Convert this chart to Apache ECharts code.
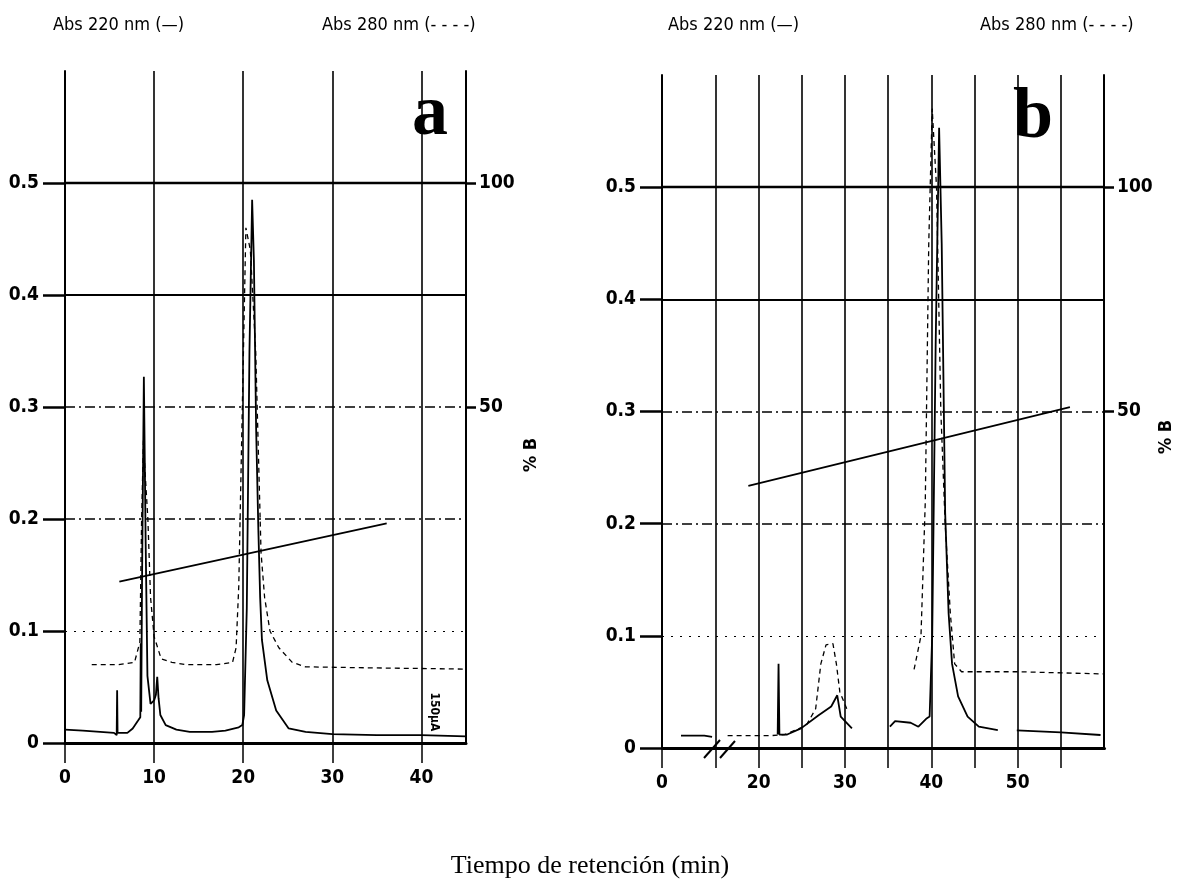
<!DOCTYPE html>
<html>
<head>
<meta charset="utf-8">
<title>Tiempo de retención</title>
<script src="https://cdn.jsdelivr.net/npm/echarts@6.0.0/dist/echarts.min.js"></script>
<style>
  html, body { margin: 0; padding: 0; background: #fff; }
  #chart { width: 1179px; height: 893px; }
</style>
</head>
<body>
<div id="chart"></div>
<script>
// panel a : tiempo (min) y absorbancia
var aTime220 = [0, 2, 5.5, 5.8, 5.85, 5.9, 6.0, 7.0, 7.6, 8.2, 8.45, 8.5, 8.55, 8.65, 8.85, 9.05, 9.25, 9.6, 10.0, 10.2, 10.35, 10.5, 10.7, 11.3, 12.5, 14, 16.5, 18, 19.5, 19.9, 20.1, 20.4, 20.7, 21.0, 21.2, 21.45, 21.7, 21.9, 22.1, 22.7, 23.7, 25.1, 27, 30, 35, 40, 45];
var aAbs220  = [0.012, 0.011, 0.009, 0.007, 0.047, 0.009, 0.008, 0.009, 0.013, 0.020, 0.023, 0.089, 0.028, 0.15, 0.327, 0.18, 0.06, 0.035, 0.038, 0.043, 0.059, 0.04, 0.025, 0.016, 0.012, 0.010, 0.010, 0.011, 0.014, 0.016, 0.025, 0.12, 0.35, 0.485, 0.43, 0.28, 0.19, 0.13, 0.092, 0.056, 0.029, 0.013, 0.010, 0.008, 0.007, 0.007, 0.006];
var aTime280 = [3, 6, 7.8, 8.4, 8.6, 8.8, 9.0, 9.3, 9.6, 10.0, 10.8, 12, 13.5, 17, 18.8, 19.2, 19.5, 19.9, 20.3, 20.8, 21.4, 21.8, 22.0, 22.4, 23.0, 24.0, 25.5, 27, 35, 45];
var aAbs280  = [0.07, 0.07, 0.072, 0.09, 0.2, 0.27, 0.24, 0.2, 0.13, 0.095, 0.075, 0.072, 0.07, 0.07, 0.072, 0.085, 0.14, 0.3, 0.46, 0.44, 0.35, 0.23, 0.17, 0.13, 0.1, 0.085, 0.072, 0.068, 0.067, 0.066];
var aTimeGrad = [6.1, 36.1];
var aPctB     = [11, 24];

// panel b (eje roto entre 5 y 13.8 min)
var bTime220 = [2.2, 4.9, 13.9, 14.6, 18, 22.2, 22.3, 22.4, 23.3, 24.9, 26.9, 28.4, 29.1, 29.5, 30.8, 33, 35.2, 35.8, 37.6, 38.5, 39.4, 39.8, 40.1, 40.5, 40.9, 41.2, 41.6, 42.0, 42.4, 43.1, 44.2, 45.5, 47.7, 49, 49.9, 55, 59.6];
var bAbs220  = [0.011, 0.011, 0.011, 0.010, null, 0.012, 0.075, 0.012, 0.012, 0.0175, 0.029, 0.037, 0.047, 0.028, 0.0175, null, 0.019, 0.024, 0.0225, 0.019, 0.026, 0.028, 0.1, 0.36, 0.553, 0.45, 0.21, 0.12, 0.075, 0.046, 0.028, 0.019, 0.016, null, 0.0157, 0.014, 0.0116];
var bTime280 = [16.4, 21.4, 23, 25.5, 26.6, 27.2, 27.8, 28.6, 29.0, 29.4, 30.2, 34, 38.0, 38.8, 39.3, 39.7, 40.1, 40.6, 41.1, 41.6, 42.2, 42.7, 43.5, 50, 60];
var bAbs280  = [0.011, 0.011, 0.012, 0.02, 0.035, 0.075, 0.092, 0.093, 0.075, 0.05, 0.035, null, 0.07, 0.1, 0.22, 0.45, 0.57, 0.5, 0.3, 0.2, 0.12, 0.075, 0.068, 0.068, 0.066];
var bTimeGrad = [18.8, 56.05];
var bPctB     = [33.4, 51];
var bBreak    = [5, 13.8];

// ejes
var absTicks    = [0, 0.1, 0.2, 0.3, 0.4, 0.5];
var pctTicks    = [50, 100];
var aTimeLabels = [0, 10, 20, 30, 40];
var bTimeLabels = [0, 20, 30, 40, 50];
var bTimeTicks  = [0, 15, 20, 25, 30, 35, 40, 45, 50, 55];

var chart = echarts.init(document.getElementById('chart'));
var narrow = "'Liberation Sans Narrow', 'DejaVu Sans Condensed', sans-serif";
var serif = "'Liberation Serif', 'DejaVu Serif', serif";

function pairs(xs, ys) {
    return xs.map(function (x, i) { return [x, ys[i] === null ? '-' : ys[i]]; });
}

// líneas horizontales de la cuadrícula (estilo distinto por nivel)
function gridLines() {
    return absTicks.filter(function (v) { return v > 0; }).map(function (v) {
        var st;
        if (v >= 0.4) st = { type: 'solid', width: v === 0.5 ? 2.4 : 2 };
        else if (v >= 0.2) st = { type: [10, 4, 2, 4], width: 1.6 };
        else st = { type: [2, 7], width: 1.2 };
        return { yAxis: v, lineStyle: { color: '#000', type: st.type, width: st.width } };
    });
}

var labelFont = { color: '#000', fontFamily: narrow, fontSize: 19, fontWeight: 'bold' };

function timeAxis(grid, max, labels, ticks) {
    return {
        type: 'value', gridIndex: grid, min: 0, max: max, interval: 5,
        axisLine: { onZero: false, lineStyle: { color: '#000', width: 3 } },
        axisTick: { customValues: ticks, length: 20, lineStyle: { color: '#000', width: 1.5 } },
        axisLabel: Object.assign({ customValues: labels, margin: 26 }, labelFont),
        splitLine: { show: true, lineStyle: { color: '#000', width: 1.6 } }
    };
}

function absAxis(grid) {
    return {
        type: 'value', gridIndex: grid, position: 'left', min: 0, max: 0.6, interval: 0.1,
        axisLine: { show: true, onZero: false, lineStyle: { color: '#000', width: 2 } },
        axisTick: { show: true, customValues: absTicks, length: 22, lineStyle: { color: '#000', width: 2.5 } },
        axisLabel: Object.assign({
            customValues: absTicks, margin: 26,
            formatter: function (v) { return v === 0 ? '0' : v.toFixed(1); }
        }, labelFont),
        splitLine: { show: false }
    };
}

function pctAxis(grid) {
    return {
        type: 'value', gridIndex: grid, position: 'right', min: -25, max: 125, interval: 25,
        axisLine: { show: true, onZero: false, lineStyle: { color: '#000', width: 2 } },
        axisTick: { show: true, customValues: pctTicks, length: 10, lineStyle: { color: '#000', width: 2.5 } },
        axisLabel: Object.assign({ customValues: pctTicks, margin: 13 }, labelFont),
        splitLine: { show: false }
    };
}

var xB = timeAxis(1, 60, bTimeLabels, bTimeTicks);
xB.breaks = [{ start: bBreak[0], end: bBreak[1], gap: 0 }];
xB.breakArea = { show: false };

function trace(name, xi, yi, data, dashed, withGrid) {
    var s = {
        name: name, type: 'line', xAxisIndex: xi, yAxisIndex: yi, data: data,
        showSymbol: false, symbol: 'none', silent: true,
        lineStyle: { color: '#000', width: dashed ? 1.3 : 1.8, type: dashed ? [5, 4] : 'solid' }
    };
    if (withGrid) {
        s.markLine = { silent: true, symbol: 'none', label: { show: false }, data: gridLines() };
    }
    return s;
}

function txt(x, y, text, size, family, extra) {
    return {
        type: 'text', x: x, y: y, silent: true,
        style: Object.assign({ text: text, fontSize: size, fontFamily: family, fill: '#000' }, extra || {})
    };
}

var option = {
    animation: false,
    backgroundColor: '#fff',
    grid: [
        { left: 65, top: 71, width: 401, bottom: 150 },
        { left: 662, top: 75, width: 442, bottom: 145 }
    ],
    xAxis: [timeAxis(0, 45, aTimeLabels, aTimeLabels), xB],
    yAxis: [absAxis(0), pctAxis(0), absAxis(1), pctAxis(1)],
    series: [
        trace('a 220 nm', 0, 0, pairs(aTime220, aAbs220), false, true),
        trace('a 280 nm', 0, 0, pairs(aTime280, aAbs280), true, false),
        trace('a %B', 0, 1, pairs(aTimeGrad, aPctB), false, false),
        trace('b 220 nm', 1, 2, pairs(bTime220, bAbs220), false, true),
        trace('b 280 nm', 1, 2, pairs(bTime280, bAbs280), true, false),
        trace('b %B', 1, 3, pairs(bTimeGrad, bPctB), false, false)
    ],
    graphic: [
        txt(53, 16, 'Abs 220 nm (—)', 18, narrow),
        txt(322, 16, 'Abs 280 nm (- - - -)', 18, narrow),
        txt(668, 16, 'Abs 220 nm (—)', 18, narrow),
        txt(980, 16, 'Abs 280 nm (- - - -)', 18, narrow),
        txt(412, 151, 'a', 72, serif, { fontWeight: 'bold', textVerticalAlign: 'bottom' }),
        txt(1013, 154, 'b', 72, serif, { fontWeight: 'bold', textVerticalAlign: 'bottom' }),
        {
            type: 'text', x: 531, y: 455, rotation: Math.PI / 2, silent: true,
            style: { text: '% B', fontSize: 18, fontFamily: narrow, fontWeight: 'bold', fill: '#000', textAlign: 'center', textVerticalAlign: 'middle' }
        },
        {
            type: 'text', x: 1166, y: 437, rotation: Math.PI / 2, silent: true,
            style: { text: '% B', fontSize: 18, fontFamily: narrow, fontWeight: 'bold', fill: '#000', textAlign: 'center', textVerticalAlign: 'middle' }
        },
        {
            type: 'text', x: 434, y: 712, rotation: -Math.PI / 2, silent: true,
            style: { text: '150µA', fontSize: 12, fontFamily: narrow, fontWeight: 'bold', fill: '#000', textAlign: 'center', textVerticalAlign: 'middle' }
        },
        // marcas de eje roto
        { type: 'line', silent: true, shape: { x1: 704, y1: 758, x2: 720, y2: 740 }, style: { stroke: '#000', lineWidth: 2 } },
        { type: 'line', silent: true, shape: { x1: 720, y1: 758, x2: 735, y2: 741 }, style: { stroke: '#000', lineWidth: 2 } },
        txt(590, 879, 'Tiempo de retención (min)', 26, serif, { textAlign: 'center', textVerticalAlign: 'bottom' })
    ]
};

chart.setOption(option);
</script>
</body>
</html>
